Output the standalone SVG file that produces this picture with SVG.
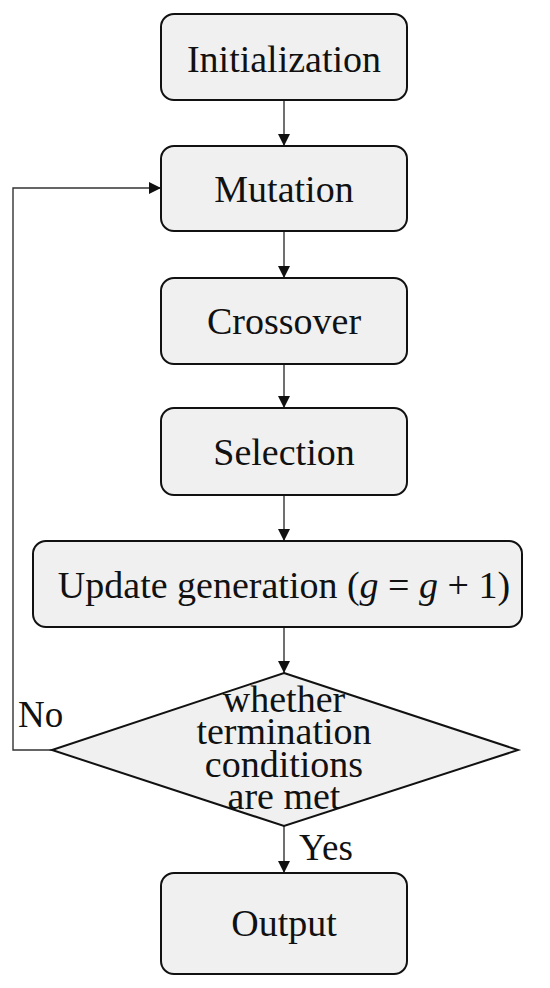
<svg xmlns="http://www.w3.org/2000/svg" width="550" height="988" viewBox="0 0 550 988">
<style>
.box{fill:#f0f0f0;stroke:#111;stroke-width:2}
.t{font-family:"Liberation Serif","Times New Roman",serif;font-size:38px;fill:#111;text-anchor:middle}
.lbl{font-family:"Liberation Serif","Times New Roman",serif;font-size:37px;fill:#111}
.c{fill:none;stroke:#333;stroke-width:1.4}
</style>
<defs>
<marker id="ah" markerWidth="12" markerHeight="12" refX="12" refY="6" orient="auto" markerUnits="userSpaceOnUse">
<path d="M0,0 L12,6 L0,12 Z" fill="#111"/>
</marker>
</defs>
<rect width="550" height="988" fill="#fff"/>
<g id="connectors">
<line class="c" x1="284" y1="100" x2="284" y2="146" marker-end="url(#ah)"/>
<line class="c" x1="284" y1="231" x2="284" y2="278" marker-end="url(#ah)"/>
<line class="c" x1="284" y1="364" x2="284" y2="408" marker-end="url(#ah)"/>
<line class="c" x1="284" y1="495" x2="284" y2="541" marker-end="url(#ah)"/>
<line class="c" x1="284" y1="627" x2="284" y2="673" marker-end="url(#ah)"/>
<line class="c" x1="284" y1="826" x2="284" y2="873" marker-end="url(#ah)"/>
<polyline class="c" points="52,750 13,750 13,188 161,188" marker-end="url(#ah)"/>
<text class="lbl" x="18" y="727">No</text>
<text class="lbl" x="299" y="860">Yes</text>
</g>
<g id="init">
<rect class="box" x="161" y="14" width="246" height="86" rx="13"/>
<text class="t" x="284" y="72">Initialization</text>
</g>
<g id="mutation">
<rect class="box" x="161" y="146" width="246" height="85" rx="13"/>
<text class="t" x="284" y="202">Mutation</text>
</g>
<g id="crossover">
<rect class="box" x="161" y="278" width="246" height="86" rx="13"/>
<text class="t" x="284" y="334">Crossover</text>
</g>
<g id="selection">
<rect class="box" x="161" y="408" width="246" height="87" rx="13"/>
<text class="t" x="284" y="465">Selection</text>
</g>
<g id="update">
<rect class="box" x="33" y="541" width="489" height="86" rx="13"/>
<text class="t" x="284" y="598">Update generation (<tspan font-style="italic">g</tspan> = <tspan font-style="italic">g</tspan> + 1)</text>
</g>
<g id="decision">
<polygon class="box" points="284,673 518,750 284,826 52,750"/>
<text class="t" x="284" y="712">whether</text>
<text class="t" x="284" y="744">termination</text>
<text class="t" x="284" y="777">conditions</text>
<text class="t" x="284" y="809">are met</text>
</g>
<g id="output">
<rect class="box" x="161" y="873" width="246" height="101" rx="13"/>
<text class="t" x="284" y="936">Output</text>
</g>
</svg>
